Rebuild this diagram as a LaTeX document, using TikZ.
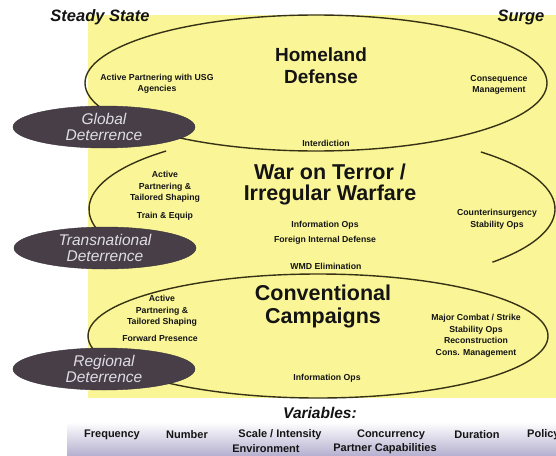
\documentclass[tikz,border=0pt]{standalone}
\usepackage{fontspec}
\setmainfont{Liberation Sans}
\usetikzlibrary{shapes.geometric}
\definecolor{ybg}{RGB}{250,246,152}
\definecolor{linecol}{RGB}{55,50,20}
\definecolor{ovalcol}{RGB}{72,62,72}
\definecolor{ovaltext}{RGB}{222,220,230}
\definecolor{band}{RGB}{182,177,208}
\definecolor{txt}{RGB}{20,20,20}
\tikzset{
  ell/.style={draw=linecol, line width=1.4pt},
  deter/.style={ellipse, fill=ovalcol, draw=ovalcol!80!black, minimum width=182, minimum height=42,
    inner sep=0pt, text=ovaltext, align=center, font=\itshape\fontsize{15.5}{16.5}\selectfont},
  big/.style={text=txt, align=center, font=\bfseries\fontsize{21.5}{21}\selectfont},
  lbl/.style={text=txt, align=center, font=\bfseries\fontsize{8.7}{11.5}\selectfont},
  head/.style={text=txt, font=\bfseries\itshape\fontsize{16.5}{18}\selectfont},
  var/.style={text=txt, font=\bfseries\fontsize{11}{13}\selectfont}
}
\begin{document}
\begin{tikzpicture}[x=1pt,y=-1pt]
\useasboundingbox (0,0) rectangle (556,455);
\fill[white] (0,0) rectangle (556,455);
\shade[top color=white, bottom color=band] (67,422) rectangle (556,455);
\fill[ybg] (88,15) rectangle (556,398);
% ellipses
\draw[ell] (316,83) ellipse [x radius=231, y radius=68];
\draw[ell] (322,209) ++(-132:233 and 78) arc[start angle=-132, end angle=-200, x radius=233, y radius=78];
\draw[ell] (322,209) ++(-47:233 and 78) arc[start angle=-47, end angle=43, x radius=233, y radius=78];
\draw[ell] (318,336) ellipse [x radius=230, y radius=62];
% headings
\node[head] (steady) at (100,17) {Steady State};
\node[head] (surge) at (521,17) {Surge};
% Homeland
\node[big, font=\bfseries\fontsize{19}{22}\selectfont] (hd) at (321,66) {Homeland\\Defense};
\node[lbl] (apusg) at (157,84) {Active Partnering with USG\\Agencies};
\node[lbl] (cm) at (499,85) {Consequence\\Management};
\node[lbl] (interd) at (326,143) {Interdiction};
% WoT
\node[big] (wot) at (330,184) {War on Terror /\\Irregular Warfare};
\node[lbl] (ap2) at (165,187) {Active\\Partnering \&\\Tailored Shaping};
\node[lbl] (te) at (165,216) {Train \& Equip};
\node[lbl] (io1) at (325,225) {Information Ops};
\node[lbl] (fid) at (325,240) {Foreign Internal Defense};
\node[lbl] (coin) at (497,219) {Counterinsurgency\\Stability Ops};
% Conventional
\node[lbl] (wmd) at (326,266) {WMD Elimination};
\node[big, font=\bfseries\fontsize{21.5}{23}\selectfont] (cc) at (323,306) {Conventional\\Campaigns};
\node[lbl] (ap3) at (162,311) {Active\\Partnering \&\\Tailored Shaping};
\node[lbl] (fp) at (160,338) {Forward Presence};
\node[lbl] (mc) at (476,336) {Major Combat / Strike\\Stability Ops\\Reconstruction\\Cons. Management};
\node[lbl] (io2) at (327,378) {Information Ops};
% deterrence ovals
\node[deter] (glob) at (104,127) {Global\\Deterrence};
\node[deter] (trans) at (105,248) {Transnational\\Deterrence};
\node[deter] (reg) at (104,369) {Regional\\Deterrence};
% variables
\node[head, font=\bfseries\itshape\fontsize{15.5}{18}\selectfont] (vars) at (320,413) {Variables:};
\node[var] (freq) at (112,435) {Frequency};
\node[var] (num) at (187,435) {Number};
\node[var] (scale) at (280,435) {Scale / Intensity};
\node[var] (conc) at (391,435) {Concurrency};
\node[var] (dur) at (477,435) {Duration};
\node[var, anchor=west, inner sep=0pt] (pol) at (527,435) {Policy};
\node[var] (env) at (266,449) {Environment};
\node[var] (pcap) at (385,449) {Partner Capabilities};
\end{tikzpicture}
\end{document}
